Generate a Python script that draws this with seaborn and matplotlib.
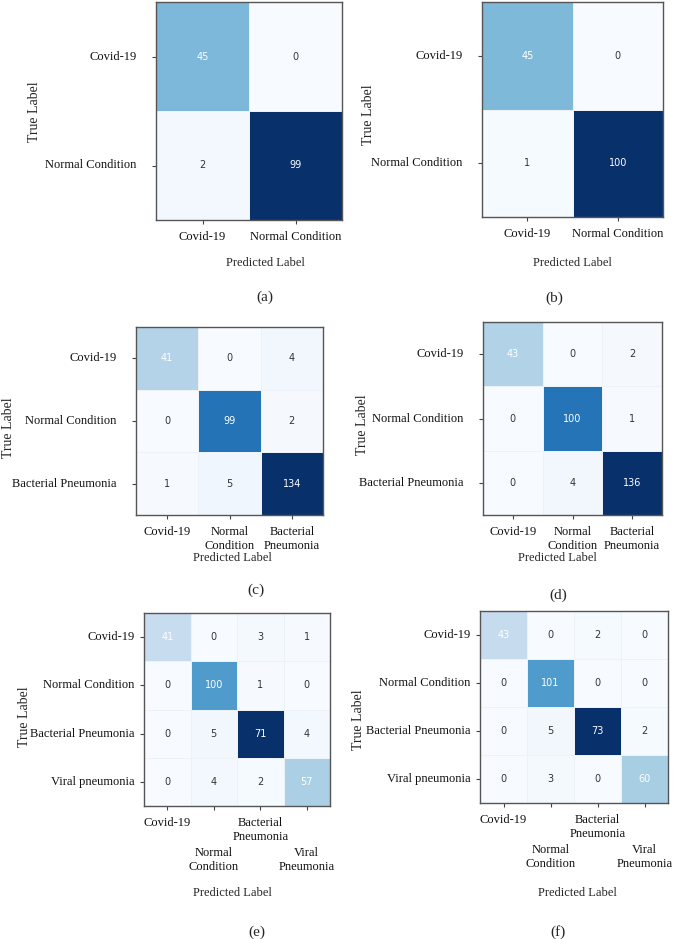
import numpy as np
import pandas as pd
import matplotlib
matplotlib.use("Agg")
import matplotlib.pyplot as plt
import matplotlib.transforms as mtransforms
import seaborn as sns

# ---------------- data ----------------
y2 = ["Covid-19", "Normal Condition"]
x2 = ["Covid-19", "Normal Condition"]
y3 = ["Covid-19", "Normal Condition", "Bacterial Pneumonia"]
x3 = ["Covid-19", "Normal\nCondition", "Bacterial\nPneumonia"]
y4 = ["Covid-19", "Normal Condition", "Bacterial Pneumonia", "Viral pneumonia"]
x4 = ["Covid-19", "Normal\nCondition", "Bacterial\nPneumonia", "Viral\nPneumonia"]

cm_a = [[45, 0], [2, 99]]
cm_b = [[45, 0], [1, 100]]
cm_c = [[41, 0, 4], [0, 99, 2], [1, 5, 134]]
cm_d = [[43, 0, 2], [0, 100, 1], [0, 4, 136]]
cm_e = [[41, 0, 3, 1], [0, 100, 1, 0], [0, 5, 171, 4], [0, 4, 2, 57]]
cm_f = [[43, 0, 2, 0], [0, 101, 0, 0], [0, 5, 173, 2], [0, 3, 0, 60]]
# text as printed in the cells (leading digit of the largest cell is hidden)
txt_e = [["41", "0", "3", "1"], ["0", "100", "1", "0"], ["0", "5", "71", "4"], ["0", "4", "2", "57"]]
txt_f = [["43", "0", "2", "0"], ["0", "101", "0", "0"], ["0", "5", "73", "2"], ["0", "3", "0", "60"]]
captions = ["(a)", "(b)", "(c)", "(d)", "(e)", "(f)"]

# ---------------- style ----------------
sns.set_theme(style="white")
plt.rcParams["font.family"] = ["Liberation Serif", "DejaVu Serif"]

W, H = 685, 939
fig = plt.figure(figsize=(W / 100, H / 100), dpi=100)


def rect(l, t, r, b):
    return [l / W, 1 - b / H, (r - l) / W, (b - t) / H]


def fxy(x, y):
    return x / W, 1 - y / H


panels = [
    # data, text, ylabels, xlabels, axes rect, ytick pad, true-label pos, pred-label pos, caption pos, stagger
    (cm_a, None, y2, x2, (156, 2, 342, 220), 11, (35, 112), (265, 263), (265, 297), False),
    (cm_b, None, y2, x2, (482, 2, 663, 217), 11, (368, 115), (572, 263), (554, 298), False),
    (cm_c, None, y3, x3, (136, 327, 323, 515), 11, (9, 428), (232, 558), (256, 590), False),
    (cm_d, None, y3, x3, (483, 322, 662, 515), 11, (363, 425), (557, 558), (558, 595), False),
    (cm_e, txt_e, y4, x4, (144, 613, 330, 806), 4, (25, 717), (232, 893), (257, 932), True),
    (cm_f, txt_f, y4, x4, (480, 611, 668, 803), 4, (358, 720), (577, 893), (558, 932), True),
]

for i, (cm, txt, yl, xl, r, ypad, tpos, ppos, cpos, stagger) in enumerate(panels):
    ax = fig.add_axes(rect(*r))
    df = pd.DataFrame(cm, index=yl, columns=xl)
    annot = np.array(txt) if txt is not None else np.array(cm).astype(str)
    sns.heatmap(df, ax=ax, cmap="Blues", annot=annot, fmt="", cbar=False,
                linewidths=0.6, linecolor="#edf2f8", square=False,
                annot_kws={"size": 7, "family": "DejaVu Sans"})
    n = len(cm)
    for k, t in enumerate(ax.texts):
        rr, cc = divmod(k, n)
        t.set_color("white" if rr == cc else "#333333")
    for s in ax.spines.values():
        s.set_visible(True)
        s.set_color("#555555")
        s.set_linewidth(1.0)
    ax.tick_params(axis="both", which="both", length=3, width=0.8, color="#444444",
                   labelsize=9, labelcolor="#111111")
    ax.tick_params(axis="y", pad=ypad, left=True)
    ax.tick_params(axis="x", pad=5, bottom=True)
    ax.set_yticklabels(yl, rotation=0, va="center")
    ax.set_xticklabels(xl, rotation=0, ha="center", va="top")
    if stagger:
        shift = mtransforms.ScaledTranslation(0, -30 / 100, fig.dpi_scale_trans)
        for k, lab in enumerate(ax.get_xticklabels()):
            if k % 2 == 1:
                lab.set_transform(lab.get_transform() + shift)
    ax.set_xlabel("Predicted Label", fontsize=9)
    ax.set_ylabel("True Label", fontsize=10)
    ax.xaxis.set_label_coords(*fxy(*ppos), transform=fig.transFigure)
    ax.xaxis.label.set_va("center")
    ax.yaxis.set_label_coords(*fxy(*tpos), transform=fig.transFigure)
    ax.yaxis.label.set_va("center")
    ax.yaxis.label.set_rotation_mode("default")
    fig.text(*fxy(*cpos), captions[i], ha="center", va="center", fontsize=11)

fig.savefig("out.png", dpi=100)
